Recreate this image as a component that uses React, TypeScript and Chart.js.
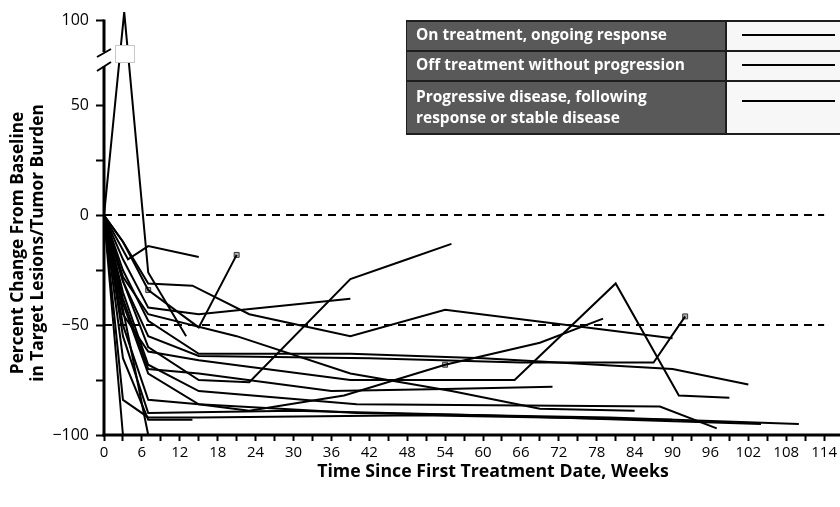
import React, { useEffect, useRef } from 'react';
import { Chart, registerables } from 'chart.js';

Chart.register(...registerables);

// ---- Data (weeks since first treatment / percent change from baseline) ----
const patientWeeks: number[][] = [
  [0, 3.2, 7, 13],
  [0, 3.8, 7, 15],
  [0, 3, 7, 15, 21],
  [0, 3, 7, 15, 39],
  [0, 3, 7, 15, 23, 39, 47, 55],
  [0, 3, 7, 14, 23, 39, 54, 90],
  [0, 3, 7, 15, 39, 65, 81, 91, 99],
  [0, 3, 7, 15, 42, 66, 87, 92],
  [0, 3, 7, 15, 39, 60, 90, 102],
  [0, 3, 7, 15, 36, 54, 71],
  [0, 3, 7, 15, 23, 38, 54, 69, 79],
  [0, 3, 7, 21, 39, 55, 69, 84],
  [0, 3, 7, 15, 40, 88, 97],
  [0, 3, 7, 15, 40, 80, 110],
  [0, 3, 7, 30, 60, 104],
  [0, 3, 7, 15, 50, 90],
  [0, 3, 7, 14],
  [0, 3],
  [0, 7, 74],
];
const patientPct: number[][] = [
  [0, 105, -26, -55],
  [0, -20, -14, -19],
  [0, -12, -34, -51, -18],
  [0, -20, -42, -45, -38],
  [0, -30, -60, -75, -76, -29, -21, -13],
  [0, -12, -31, -32, -45, -55, -43, -56],
  [0, -45, -62, -66, -75, -75, -31, -82, -83],
  [0, -30, -55, -64, -65, -67, -67, -46],
  [0, -25, -48, -63, -63, -65, -70, -77],
  [0, -38, -70, -72, -80, -79, -78],
  [0, -40, -72, -86, -89, -82, -68, -58, -47],
  [0, -28, -45, -55, -72, -80, -88, -89],
  [0, -35, -68, -80, -86, -87, -97],
  [0, -50, -84, -86, -90, -92, -95],
  [0, -55, -90, -89, -91, -95],
  [0, -84, -92, -92, -91, -93],
  [0, -65, -93, -93],
  [0, -100],
  [0, -100, -100],
];
const markerWeeks = [7, 21, 54, 92];
const markerPct = [-34, -18, -68, -46];

const xTickWeeks = [0, 3, 6, 9, 12, 15, 18, 21, 24, 27, 30, 33, 36, 39, 42, 45, 48, 51, 54, 57, 60, 63, 66, 69, 72, 75, 78, 81, 84, 87, 90, 93, 96, 99, 102, 105, 108, 111, 114];
const xLabelStep = 6;
const yTickValues = [-100, -75, -50, -25, 0, 25, 50, 100];
const yLabelledValues = [-100, -50, 0, 50, 100];
const referenceLines = [0, -50];

const legendLabels = [
  ['On treatment, ongoing response'],
  ['Off treatment without progression'],
  ['Progressive disease, following', 'response or stable disease'],
];

const xTitle = 'Time Since First Treatment Date, Weeks';
const yTitle = ['Percent Change From Baseline', 'in Target Lesions/Tumor Burden'];

// axis break: values above 50 are compressed
const BREAK_AT = 50;
const BREAK_SCALE = 0.774;
const toDisplay = (v: number) => (v > BREAK_AT ? BREAK_AT + (v - BREAK_AT) * BREAK_SCALE : v);
const fromDisplay = (d: number) => (d > BREAK_AT ? BREAK_AT + (d - BREAK_AT) / BREAK_SCALE : d);

const FONT = '"Open Sans", "DejaVu Sans", sans-serif';

// choose a font size so that text spans the given width
function fitFont(ctx: CanvasRenderingContext2D, text: string, weight: string, width: number) {
  ctx.font = `${weight} 20px ${FONT}`;
  const w = ctx.measureText(text).width;
  const size = (20 * width) / w;
  return `${weight} ${size.toFixed(2)}px ${FONT}`;
}

const decorPlugin = {
  id: 'decor',
  beforeDatasetsDraw(chart: any) {
    const { ctx, chartArea, scales } = chart;
    const x = scales.x;
    const y = scales.y;
    ctx.save();
    ctx.strokeStyle = '#000';
    ctx.lineWidth = 2;
    ctx.setLineDash([8, 6]);
    referenceLines.forEach((v) => {
      const py = Math.round(y.getPixelForValue(toDisplay(v)));
      ctx.beginPath();
      ctx.moveTo(chartArea.left, py);
      ctx.lineTo(x.getPixelForValue(114), py);
      ctx.stroke();
    });
    ctx.restore();
  },
  afterDatasetsDraw(chart: any) {
    const { ctx, chartArea, scales } = chart;
    const y = scales.y;
    const left = chartArea.left;
    const bottom = chartArea.bottom;
    const top100 = y.getPixelForValue(toDisplay(100));
    ctx.save();
    // break box on the spike
    ctx.fillStyle = '#fff';
    ctx.strokeStyle = '#c8c8c8';
    ctx.lineWidth = 1;
    ctx.fillRect(115.5, 45.5, 19, 17);
    ctx.strokeRect(115.5, 45.5, 19, 17);
    // axis lines
    ctx.strokeStyle = '#000';
    ctx.lineWidth = 3;
    ctx.setLineDash([]);
    ctx.beginPath();
    ctx.moveTo(left, top100 - 1);
    ctx.lineTo(left, 52);
    ctx.moveTo(left, 66);
    ctx.lineTo(left, bottom + 1.5);
    ctx.stroke();
    ctx.beginPath();
    ctx.moveTo(left - 1.5, bottom);
    ctx.lineTo(840, bottom);
    ctx.stroke();
    // break slashes
    ctx.lineWidth = 2;
    ctx.beginPath();
    ctx.moveTo(97, 57);
    ctx.lineTo(111, 49);
    ctx.moveTo(97, 71);
    ctx.lineTo(111, 62);
    ctx.stroke();

    // legend table
    const lx = 407;
    const divX = 725;
    const rx = 840;
    const rows = [
      [22, 50],
      [52, 80],
      [82, 133],
    ];
    ctx.fillStyle = '#1e1e1e';
    ctx.fillRect(lx - 1, 20, rx - lx + 1, 115);
    const legendFont = fitFont(ctx, legendLabels[0][0], 'bold', 251);
    rows.forEach((r, i) => {
      ctx.fillStyle = '#595959';
      ctx.fillRect(lx, r[0], divX - lx, r[1] - r[0]);
      ctx.fillStyle = '#f7f7f7';
      ctx.fillRect(divX + 2, r[0], rx - divX - 2, r[1] - r[0]);
      ctx.fillStyle = '#fff';
      ctx.font = legendFont;
      ctx.textAlign = 'left';
      ctx.textBaseline = 'middle';
      const lines = legendLabels[i];
      lines.forEach((t, j) => {
        const ty = i === 2 ? 98 + j * 21 : (r[0] + r[1]) / 2;
        ctx.fillText(t, lx + 9, ty);
      });
      const ly = i === 2 ? 101 : (r[0] + r[1]) / 2 - 1;
      ctx.strokeStyle = '#000';
      ctx.lineWidth = 2;
      ctx.beginPath();
      ctx.moveTo(742, ly);
      ctx.lineTo(835, ly);
      ctx.stroke();
    });

    // axis titles
    ctx.fillStyle = '#000';
    ctx.textAlign = 'center';
    ctx.textBaseline = 'middle';
    ctx.font = fitFont(ctx, xTitle, 'bold', 352);
    ctx.fillText(xTitle, 493, 472);
    ctx.save();
    ctx.translate(18, 243);
    ctx.rotate(-Math.PI / 2);
    const yFont = fitFont(ctx, yTitle[1], 'bold', 278);
    ctx.font = yFont;
    ctx.fillText(yTitle[0], 0, 0);
    ctx.fillText(yTitle[1], 0, 20);
    ctx.restore();
    ctx.restore();
  },
};

export default function App() {
  const canvasRef = useRef<HTMLCanvasElement | null>(null);

  useEffect(() => {
    if (!canvasRef.current) return;
    const lineSets = patientWeeks.map((ws, i) => ({
      type: 'line' as const,
      data: ws.map((w, j) => ({ x: w, y: toDisplay(patientPct[i][j]) })),
      borderColor: '#000',
      borderWidth: 2,
      pointRadius: 0,
      tension: 0,
      fill: false,
      clip: false,
    }));
    const markerSet = {
      type: 'scatter' as const,
      data: markerWeeks.map((w, i) => ({ x: w, y: toDisplay(markerPct[i]) })),
      pointStyle: 'rect',
      pointRadius: 3.5,
      backgroundColor: '#b0b0b0',
      borderColor: '#333',
      borderWidth: 1,
      clip: false,
    };
    const chart = new Chart(canvasRef.current, {
      type: 'line',
      data: { datasets: [...lineSets, markerSet] as any },
      plugins: [decorPlugin],
      options: {
        animation: false,
        responsive: false,
        maintainAspectRatio: false,
        layout: { padding: { left: 0, right: 14, top: 0, bottom: 0 } },
        plugins: { legend: { display: false }, tooltip: { enabled: false } },
        scales: {
          x: {
            type: 'linear',
            min: 0,
            max: 114,
            afterBuildTicks: (s: any) => {
              s.ticks = xTickWeeks.map((v) => ({ value: v }));
            },
            afterFit: (s: any) => {
              s.height = 72;
            },
            grid: {
              drawOnChartArea: false,
              drawTicks: true,
              tickLength: 6,
              tickWidth: 2,
              tickColor: '#000',
            },
            border: { display: false },
            ticks: {
              autoSkip: false,
              maxRotation: 0,
              padding: 3,
              color: '#000',
              font: { family: FONT, size: 15 },
              callback: (v: any) => (Number(v) % xLabelStep === 0 ? String(v) : ''),
            },
          },
          y: {
            type: 'linear',
            min: -100,
            max: 90.5,
            afterBuildTicks: (s: any) => {
              s.ticks = yTickValues.map((v) => ({ value: toDisplay(v) }));
            },
            afterFit: (s: any) => {
              s.width = 104;
            },
            grid: {
              drawOnChartArea: false,
              drawTicks: true,
              tickLength: 8,
              tickWidth: 2,
              tickColor: '#000',
            },
            border: { display: false },
            ticks: {
              autoSkip: false,
              padding: 7,
              color: '#000',
              font: { family: FONT, size: 16 },
              callback: (v: any) => {
                const real = Math.round(fromDisplay(Number(v)));
                if (!yLabelledValues.includes(real)) return '';
                return real < 0 ? '\u2212' + Math.abs(real) : String(real);
              },
            },
          },
        },
      },
    });
    return () => chart.destroy();
  }, []);

  return (
    <div style={{ position: 'fixed', left: 0, top: 0, width: 840, height: 507, background: '#fff' }}>
      <canvas ref={canvasRef} width={840} height={507} style={{ width: 840, height: 507 }} />
    </div>
  );
}
